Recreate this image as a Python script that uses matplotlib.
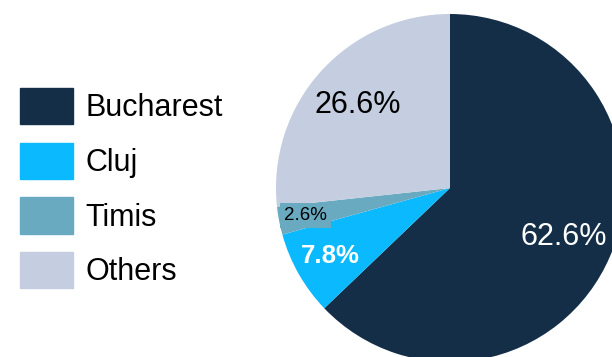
import matplotlib
matplotlib.use('Agg')
import matplotlib.pyplot as plt
import numpy as np

# Share by county
regions = ['Bucharest', 'Cluj', 'Timis', 'Others']
shares = [62.6, 7.8, 2.6, 26.6]
colors = ['#142e48', '#0bb9ff', '#6aaac0', '#c4cee0']

plt.rcParams['font.family'] = ['Liberation Sans', 'DejaVu Sans']

W, H = 612, 357
fig = plt.figure(figsize=(W / 100, H / 100), dpi=100)

# pie centre (450, 188) px, radius 174 px
cx, cy, r = 450, 188, 174
ax = fig.add_axes([(cx - r) / W, (H - cy - r) / H, 2 * r / W, 2 * r / H])
wedges, _ = ax.pie(shares, colors=colors, startangle=90, counterclock=False,
                   radius=1, wedgeprops=dict(linewidth=0))
ax.set_xlim(-1, 1)
ax.set_ylim(-1, 1)
ax.set_aspect('equal')
ax.axis('off')

# value labels, placed along each wedge's bisector
dist = [0.71, 0.79, 0.845, 0.71]
styles = [
    dict(color='white', fontsize=22),
    dict(color='white', fontsize=18.5, fontweight='bold'),
    dict(color='black', fontsize=13.5,
         bbox=dict(facecolor=colors[2], edgecolor='none', pad=3)),
    dict(color='black', fontsize=22),
]
for w, v, d, st in zip(wedges, shares, dist, styles):
    ang = np.deg2rad((w.theta1 + w.theta2) / 2)
    ax.text(d * np.cos(ang), d * np.sin(ang), f'{v:.1f}%',
            ha='center', va='center', **st)

handles = [plt.Rectangle((0, 0), 1, 1, color=c) for c in colors]
fig.legend(handles, regions, loc='upper left', bbox_to_anchor=(20 / W, 1 - 88 / H),
           frameon=False, fontsize=22, borderpad=0, borderaxespad=0,
           handlelength=1.74, handleheight=1.45, handletextpad=0.4,
           labelspacing=0.6)

fig.savefig('out.png', dpi=100)
